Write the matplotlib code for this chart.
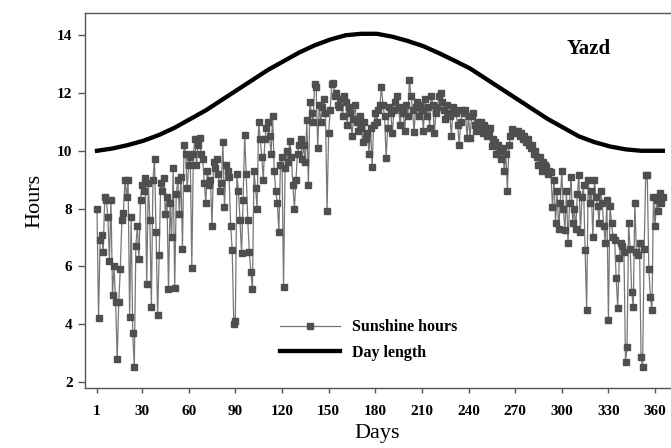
import numpy as np
import matplotlib
matplotlib.use('Agg')
import matplotlib.pyplot as plt

plt.rcParams['font.family'] = ['Liberation Serif', 'DejaVu Serif']

# daily sunshine hours, Yazd
sunshine = [
    8.0, 4.2, 6.9, 7.1, 6.5, 8.4, 8.3, 7.7, 6.2, 8.3,
    5.0, 6.0, 4.75, 2.8, 4.75, 5.9, 7.6, 7.85, 9.0, 8.4,
    9.0, 4.25, 7.7, 3.7, 2.5, 6.7, 7.4, 6.25, 8.3, 8.8,
    8.6, 9.05, 5.4, 8.9, 7.6, 4.6, 9.0, 9.7, 7.2, 4.3,
    6.4, 8.9, 8.6, 9.05, 7.8, 8.4, 5.2, 8.2, 7.0, 9.4,
    5.25, 8.5, 9.0, 7.8, 9.1, 6.6, 10.2, 9.9, 8.7, 9.5,
    9.8, 5.95, 9.9, 10.4, 9.5, 10.2, 10.45, 9.9, 9.7, 8.9,
    8.2, 9.3, 8.8, 9.0, 7.4, 9.6, 9.4, 9.7, 9.2, 8.6,
    8.9, 10.3, 8.05, 9.5, 9.3, 9.1, 7.4, 6.55, 4.0, 4.1,
    9.2, 8.6, 7.6, 6.45, 8.3, 10.55, 9.2, 7.6, 6.5, 5.8,
    5.2, 9.3, 8.7, 8.0, 11.0, 10.4, 9.8, 9.0, 10.4, 10.8,
    11.0, 10.5, 9.9, 11.2, 9.3, 8.6, 8.2, 7.2, 9.5, 9.8,
    5.3, 9.4, 10.0, 9.6, 10.35, 9.8, 8.8, 8.0, 9.0, 9.9,
    10.2, 10.4, 9.7, 10.2, 9.6, 11.05, 8.8, 11.7, 11.3, 11.0,
    12.3, 12.2, 10.1, 11.6, 11.0, 11.5, 11.8, 11.3, 7.9, 10.6,
    11.4, 12.3, 12.35, 11.9, 12.0, 11.6, 11.5, 11.8, 11.2, 11.9,
    11.7, 10.9, 11.5, 11.3, 10.5, 11.1, 11.6, 11.0, 10.7, 11.2,
    10.8, 10.3, 11.0, 10.4, 10.6, 9.9, 10.8, 9.45, 10.9, 11.3,
    11.0, 11.4, 11.6, 12.2, 11.6, 11.2, 9.75, 10.8, 11.5, 11.3,
    10.6, 11.4, 11.7, 11.9, 11.5, 10.9, 11.4, 11.3, 10.7, 11.6,
    11.2, 12.45, 11.9, 11.4, 10.65, 11.5, 11.7, 11.2, 11.6, 11.4,
    10.7, 11.8, 11.2, 11.5, 10.8, 11.9, 11.6, 10.6, 11.3, 11.5,
    11.9, 12.0, 11.7, 11.4, 11.1, 11.6, 11.3, 11.2, 10.5, 11.5,
    11.4, 11.3, 10.9, 10.2, 11.0, 11.4, 11.3, 11.4, 10.45, 11.2,
    10.45, 11.2, 11.3, 10.9, 10.7, 11.0, 10.8, 11.0, 10.6, 10.9,
    10.8, 10.5, 10.6, 10.8, 10.15, 10.4, 10.3, 9.9, 10.2, 10.0,
    9.7, 10.1, 9.3, 9.9, 8.6, 10.2, 10.5, 10.75, 10.6, 10.7,
    10.6, 10.7, 10.5, 10.6, 10.4, 10.5, 10.3, 10.4, 10.2, 10.1,
    10.2, 9.9, 10.0, 9.8, 9.5, 9.8, 9.3, 9.6, 9.5, 9.45,
    9.2, 9.3, 9.25, 8.05, 9.0, 7.5, 8.6, 7.3, 8.2, 9.3,
    8.0, 7.25, 8.6, 6.8, 8.2, 9.1, 7.5, 8.0, 7.3, 8.5,
    9.15, 7.2, 8.4, 8.8, 6.55, 4.5, 9.0, 8.2, 8.6, 7.0,
    9.0, 8.4, 8.1, 7.5, 8.6, 8.2, 7.4, 6.8, 8.3, 4.15,
    8.1, 7.5, 7.0, 6.9, 5.6, 4.55, 6.3, 6.8, 6.7, 6.5,
    2.7, 3.2, 7.5, 6.6, 5.1, 4.6, 8.2, 6.5, 6.4, 6.8,
    2.85, 2.5, 6.6, 9.15, 9.15, 5.9, 4.95, 4.5, 8.4, 7.4,
    8.3, 7.9, 8.55, 8.2, 8.4,
]
days = np.arange(1, len(sunshine) + 1)

# day length (every ~10 days)
dl_days = [1, 11, 21, 31, 41, 51, 61, 71, 81, 91, 101, 111, 121, 131, 141, 151,
           161, 171, 181, 191, 201, 211, 221, 231, 241, 251, 261, 271, 281, 291,
           301, 311, 321, 331, 341, 351, 361, 365]
day_length = [10.0, 10.08, 10.2, 10.35, 10.55, 10.8, 11.1, 11.4, 11.75, 12.1,
              12.45, 12.8, 13.1, 13.4, 13.65, 13.85, 14.0, 14.05, 14.05, 13.95,
              13.8, 13.62, 13.38, 13.12, 12.85, 12.5, 12.15, 11.8, 11.45, 11.1,
              10.8, 10.5, 10.3, 10.15, 10.05, 10.0, 10.0, 10.0]

x_ticks = [1, 30, 60, 90, 120, 150, 180, 210, 240, 270, 300, 330, 360]
y_ticks = [2, 4, 6, 8, 10, 12, 14]

fig = plt.figure(figsize=(6.71, 4.48), dpi=100)
ax = fig.add_axes([0.1267, 0.134, 0.872, 0.837])

ax.plot(days, sunshine, color='#777777', lw=0.9, marker='s', markersize=4.2,
        markerfacecolor='#4f4f4f', markeredgecolor='#4f4f4f',
        label='Sunshine hours')
ax.plot(dl_days, day_length, color='black', lw=3.1, label='Day length')

ax.set_xlim(-6.7, 369.7)
ax.set_ylim(1.79, 14.77)
ax.set_xticks(x_ticks)
ax.set_yticks(y_ticks)

for side in ['left', 'bottom', 'top']:
    ax.spines[side].set_color('#555555')
    ax.spines[side].set_linewidth(1.0)
ax.spines['right'].set_visible(False)

ax.tick_params(axis='x', direction='out', length=3.5, width=1, color='#555555', pad=9)
ax.tick_params(axis='y', direction='out', length=5, width=1, color='#555555', pad=4)
for lab in ax.get_xticklabels() + ax.get_yticklabels():
    lab.set_fontweight('bold')
    lab.set_fontsize(11)

ax.set_xlabel('Days', fontsize=16, labelpad=4)
ax.set_ylabel('Hours', fontsize=16, labelpad=9)

ax.text(0.86, 0.905, 'Yazd', transform=ax.transAxes, fontsize=15,
        fontweight='bold', ha='center', va='center')

ax.legend(loc='center', bbox_to_anchor=(0.484, 0.128), frameon=False,
          prop={'weight': 'bold', 'size': 11.5}, handlelength=3.8,
          handletextpad=0.7, labelspacing=0.6)

fig.savefig('out.png', dpi=100)
